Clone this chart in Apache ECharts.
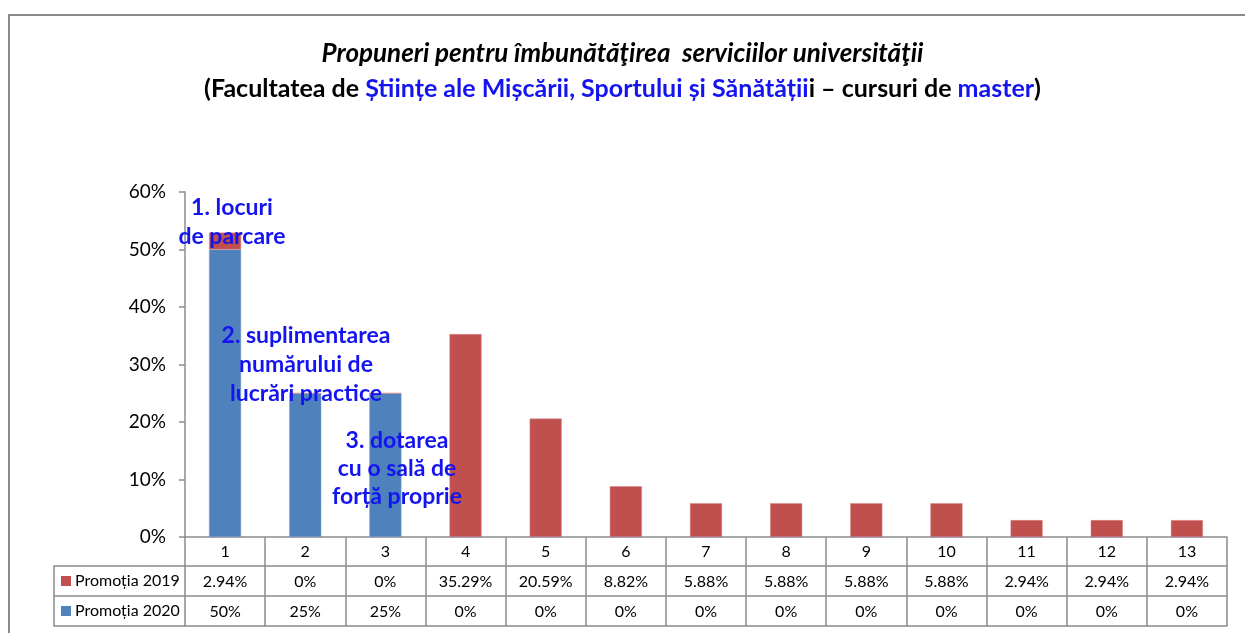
<!DOCTYPE html>
<html>
<head>
<meta charset="utf-8">
<script src="https://cdn.jsdelivr.net/npm/echarts@6/dist/echarts.min.js"></script>
<style>
  html, body { margin: 0; padding: 0; background: #fff; }
  #main { width: 1245px; height: 633px; }
</style>
</head>
<body>
<div id="main"></div>
<script>
var categories = ['1', '2', '3', '4', '5', '6', '7', '8', '9', '10', '11', '12', '13'];
var promo2019 = [2.94, 0, 0, 35.29, 20.59, 8.82, 5.88, 5.88, 5.88, 5.88, 2.94, 2.94, 2.94];
var promo2020 = [50, 25, 25, 0, 0, 0, 0, 0, 0, 0, 0, 0, 0];
var yTicks = [0, 10, 20, 30, 40, 50, 60];

var FONT = 'Lato';
var RED = '#C0504D';
var BLUE = '#4F81BD';
var NOTE = '#1414F0';
var LINE = '#8c8c8c';

function pct(v) { return v + '%'; }

var chart = echarts.init(document.getElementById('main'), null, { renderer: 'canvas' });

var option = {
  animation: false,
  backgroundColor: '#fff',
  textStyle: { fontFamily: FONT },
  title: {
    left: 'center',
    top: 36,
    itemGap: 9,
    text: 'Propuneri pentru îmbunătăţirea  serviciilor universităţii',
    textStyle: { fontFamily: FONT, fontSize: 26, fontWeight: 'bold', fontStyle: 'italic', color: '#000' },
    subtext: '{k|(Facultatea de }{b|Științe ale Mișcării, Sportului și Sănătății}{k|i – cursuri de }{b|master}{k|)}',
    subtextStyle: {
      rich: {
        k: { fontFamily: FONT, fontSize: 25, fontWeight: 'bold', color: '#000' },
        b: { fontFamily: FONT, fontSize: 25, fontWeight: 'bold', color: NOTE }
      }
    }
  },
  grid: { left: 185, right: 18, top: 192, bottom: 96, containLabel: false },
  xAxis: [
    {
      type: 'category',
      data: categories,
      position: 'bottom',
      axisLine: { lineStyle: { color: LINE, width: 1.5 } },
      axisTick: { show: true, interval: 0, length: 89, lineStyle: { color: LINE, width: 1.5 } },
      axisLabel: { interval: 0, margin: 7, fontSize: 16, color: '#000', fontFamily: FONT }
    },
    {
      type: 'category',
      data: promo2019.map(pct),
      position: 'bottom',
      offset: 29,
      axisLine: { lineStyle: { color: LINE, width: 1.5 } },
      axisTick: { show: false },
      axisLabel: { interval: 0, margin: 8, fontSize: 16, color: '#000', fontFamily: FONT }
    },
    {
      type: 'category',
      data: promo2020.map(pct),
      position: 'bottom',
      offset: 59,
      axisLine: { lineStyle: { color: LINE, width: 1.5 } },
      axisTick: { show: false },
      axisLabel: { interval: 0, margin: 8, fontSize: 16, color: '#000', fontFamily: FONT }
    },
    {
      type: 'category',
      data: categories,
      position: 'bottom',
      offset: 89,
      axisLine: { lineStyle: { color: LINE, width: 1.5 } },
      axisTick: { show: false },
      axisLabel: { show: false }
    }
  ],
  yAxis: {
    type: 'value',
    min: yTicks[0],
    max: yTicks[yTicks.length - 1],
    interval: 10,
    axisLine: { show: true, lineStyle: { color: LINE, width: 1.5 } },
    axisTick: { show: true, length: 6, lineStyle: { color: LINE, width: 1.5 } },
    splitLine: { show: false },
    axisLabel: { formatter: '{value}%', fontSize: 19, color: '#000', margin: 19, fontFamily: FONT }
  },
  series: [
    {
      name: 'Promoția 2020',
      type: 'bar',
      stack: 'total',
      xAxisIndex: 0,
      barWidth: '40%',
      data: promo2020,
      itemStyle: { color: BLUE, borderColor: '#7ea3d0', borderWidth: 0.5 }
    },
    {
      name: 'Promoția 2019',
      type: 'bar',
      stack: 'total',
      xAxisIndex: 0,
      barWidth: '40%',
      data: promo2019,
      itemStyle: { color: RED, borderColor: '#d98583', borderWidth: 0.5 }
    }
  ],
  graphic: [
    // outer frame
    { type: 'rect', shape: { x: 9, y: 15, width: 1260, height: 660 }, style: { fill: null, stroke: '#8a8a8a', lineWidth: 2 }, z: 0 },
    // legend cells of the data table
    { type: 'polyline', shape: { points: [[185, 566], [54, 566], [54, 626], [185, 626]] }, style: { fill: null, stroke: LINE, lineWidth: 1.5 } },
    { type: 'line', shape: { x1: 54, y1: 596, x2: 185, y2: 596 }, style: { stroke: LINE, lineWidth: 1.5 } },
    { type: 'rect', shape: { x: 61, y: 576, width: 10, height: 10 }, style: { fill: RED } },
    { type: 'text', x: 75, y: 581, style: { text: 'Promoția 2019', font: '16px ' + FONT, fill: '#000', textVerticalAlign: 'middle' } },
    { type: 'rect', shape: { x: 61, y: 606, width: 10, height: 10 }, style: { fill: BLUE } },
    { type: 'text', x: 75, y: 611, style: { text: 'Promoția 2020', font: '16px ' + FONT, fill: '#000', textVerticalAlign: 'middle' } },
    // annotations
    { type: 'text', x: 232, y: 193, z: 10, style: { text: '1. locuri\nde parcare', font: 'bold 23px ' + FONT, fill: NOTE, textAlign: 'center', lineHeight: 29 } },
    { type: 'text', x: 306, y: 321, z: 10, style: { text: '2. suplimentarea\nnumărului de\nlucrări practice', font: 'bold 23px ' + FONT, fill: NOTE, textAlign: 'center', lineHeight: 29 } },
    { type: 'text', x: 397, y: 427, z: 10, style: { text: '3. dotarea\ncu o sală de\nforță proprie', font: 'bold 23px ' + FONT, fill: NOTE, textAlign: 'center', lineHeight: 28 } }
  ]
};

chart.setOption(option);
</script>
</body>
</html>
